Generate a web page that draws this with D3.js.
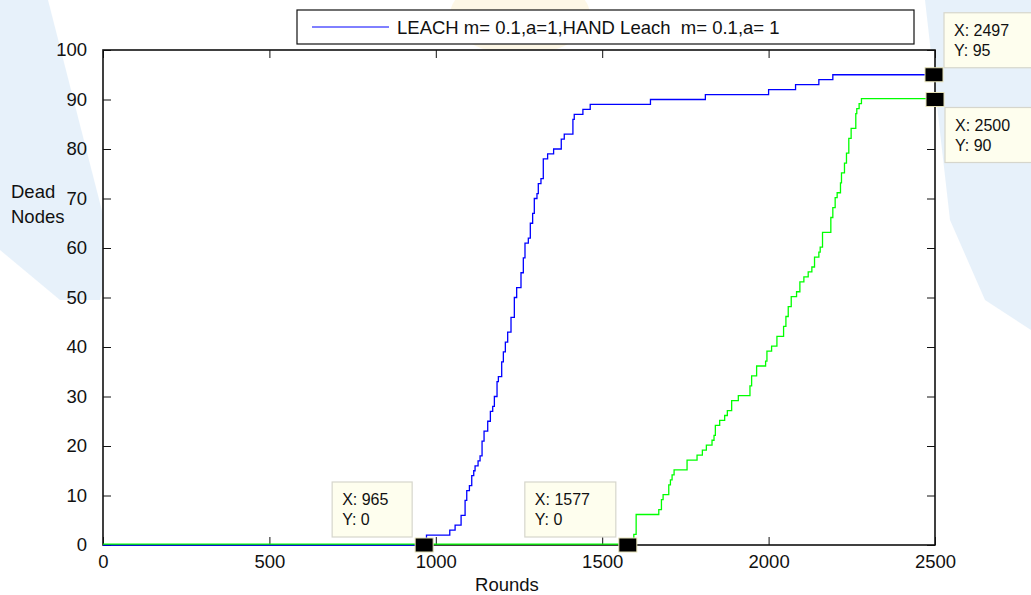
<!DOCTYPE html>
<html>
<head>
<meta charset="utf-8">
<script src="https://cdn.jsdelivr.net/npm/d3@7"></script>
<style>
  html, body { margin: 0; padding: 0; background: #ffffff; }
  svg { display: block; }
  text { font-family: "Liberation Sans", Arial, sans-serif; }
</style>
</head>
<body>
<svg id="chart" width="1031" height="595"></svg>
<script>
// ---------- data ----------
const xTicks = [0, 500, 1000, 1500, 2000, 2500];
const yTicks = [0, 10, 20, 30, 40, 50, 60, 70, 80, 90, 100];

const blueRounds = [0, 972, 1042, 1058, 1076, 1088, 1093, 1101, 1108, 1114, 1118, 1127, 1133, 1139, 1145, 1156, 1164, 1171, 1176, 1184, 1188, 1198, 1203, 1209, 1216, 1226, 1236, 1243, 1256, 1263, 1268, 1278, 1284, 1291, 1296, 1304, 1308, 1316, 1323, 1336, 1354, 1377, 1386, 1412, 1416, 1442, 1464, 1645, 1810, 2000, 2081, 2151, 2193, 2500];
const blueDead   = [0, 2, 3, 4, 6, 9, 11, 12, 14, 15, 16, 17, 18, 21, 23, 25, 27, 28, 30, 33, 34, 37, 39, 41, 43, 46, 50, 52, 55, 58, 61, 62, 65, 67, 70, 71, 73, 74, 78, 79, 80, 82, 83, 86, 87, 88, 89, 90, 91, 92, 93, 94, 95, 95];

const greenRounds = [0, 1595, 1602, 1670, 1678, 1683, 1700, 1705, 1710, 1716, 1755, 1785, 1801, 1813, 1830, 1836, 1840, 1853, 1868, 1876, 1889, 1909, 1944, 1949, 1964, 1991, 1995, 2009, 2025, 2045, 2052, 2059, 2068, 2084, 2094, 2106, 2119, 2130, 2138, 2151, 2155, 2162, 2187, 2193, 2200, 2206, 2216, 2219, 2228, 2234, 2241, 2248, 2262, 2265, 2272, 2279, 2500];
const greenDead   = [0, 2, 6, 7, 9, 10, 12, 13, 14, 15, 17, 18, 19, 20, 21, 22, 24, 25, 26, 27, 29, 30, 32, 34, 36, 37, 39, 40, 42, 44, 46, 48, 50, 51, 53, 54, 55, 56, 58, 59, 60, 63, 66, 68, 70, 71, 73, 75, 77, 79, 82, 84, 87, 88, 89, 90, 90];

const legendLabel = "LEACH m= 0.1,a=1,HAND Leach  m= 0.1,a= 1";
const xLabel = "Rounds";
const yLabelLines = ["Dead", "Nodes"];

const tipX = [965, 1577, 2497, 2500];
const tipY = [0, 0, 95, 90];

// ---------- layout ----------
const svg = d3.select("#chart");
const pLeft = 103, pRight = 935, pTop = 50, pBottom = 545;
const x = d3.scaleLinear().domain([0, 2500]).range([pLeft, pRight]);
const y = d3.scaleLinear().domain([0, 100]).range([pBottom, pTop]);

// faint watermark background (outside the axes)
const wm = svg.append("g");
wm.append("path")
  .attr("d", "M0,0 L48,0 L112,250 L100,300 L60,300 L0,250 Z")
  .attr("fill", "#cfe3f6").attr("opacity", 0.5);
wm.append("path")
  .attr("d", "M925,0 L1031,0 L1031,330 L985,300 L950,220 Z")
  .attr("fill", "#cfe3f6").attr("opacity", 0.5);
wm.append("ellipse")
  .attr("cx", 520).attr("cy", 15).attr("rx", 70).attr("ry", 40)
  .attr("fill", "#fbf1d6").attr("opacity", 0.6);

// plot area
svg.append("rect")
  .attr("x", pLeft).attr("y", pTop)
  .attr("width", pRight - pLeft).attr("height", pBottom - pTop)
  .attr("fill", "#ffffff");

const axisFont = 18.5;
function styleAxis(g) {
  g.select(".domain").remove();
  g.selectAll(".tick line").attr("stroke", "#111").attr("stroke-width", 1);
  g.selectAll(".tick text").attr("fill", "#111")
    .style("font-family", '"Liberation Sans", Arial, sans-serif')
    .style("font-size", axisFont + "px");
}

svg.append("g").attr("transform", `translate(0,${pBottom})`)
  .call(d3.axisBottom(x).tickValues(xTicks).tickSize(-8).tickPadding(10).tickFormat(d3.format("d")))
  .call(styleAxis);
svg.append("g").attr("transform", `translate(0,${pTop})`)
  .call(d3.axisTop(x).tickValues(xTicks).tickSize(-8).tickFormat(""))
  .call(styleAxis);
svg.append("g").attr("transform", `translate(${pLeft},0)`)
  .call(d3.axisLeft(y).tickValues(yTicks).tickSize(-8).tickPadding(16).tickFormat(d3.format("d")))
  .call(styleAxis);
svg.append("g").attr("transform", `translate(${pRight},0)`)
  .call(d3.axisRight(y).tickValues(yTicks).tickSize(-8).tickFormat(""))
  .call(styleAxis);

svg.append("rect")
  .attr("x", pLeft).attr("y", pTop)
  .attr("width", pRight - pLeft).attr("height", pBottom - pTop)
  .attr("fill", "none").attr("stroke", "#111").attr("stroke-width", 1.6);

// axis labels
svg.append("text").attr("x", 507).attr("y", 591)
  .attr("text-anchor", "middle").attr("fill", "#111")
  .style("font-size", axisFont + "px").text(xLabel);
svg.append("g").selectAll("text").data(yLabelLines).join("text")
  .attr("x", 11).attr("y", (d, i) => 198 + i * 25)
  .attr("fill", "#111").style("font-size", axisFont + "px").text(d => d);

// series
const line = d3.line().x(d => x(d[0])).y(d => y(d[1])).curve(d3.curveStepAfter);
const blueData = blueRounds.map((r, i) => [r, blueDead[i]]);
const greenData = greenRounds.map((r, i) => [r, greenDead[i]]);

svg.append("path").datum(blueData).attr("d", line)
  .attr("fill", "none").attr("stroke", "#0000ff").attr("stroke-width", 1.3);
svg.append("path").datum(greenData).attr("d", line)
  .attr("fill", "none").attr("stroke", "#00ff00").attr("stroke-width", 1.3)
  .attr("transform", "translate(0,-0.8)");

// legend
const lg = svg.append("g");
lg.append("rect").attr("x", 297).attr("y", 10).attr("width", 617).attr("height", 34)
  .attr("fill", "#ffffff").attr("stroke", "#111").attr("stroke-width", 1.2);
lg.append("line").attr("x1", 312).attr("x2", 389).attr("y1", 27).attr("y2", 27)
  .attr("stroke", "#0000ff").attr("stroke-width", 1);
lg.append("text").attr("x", 397).attr("y", 34).attr("fill", "#111")
  .style("font-size", axisFont + "px").style("white-space", "pre")
  .attr("xml:space", "preserve").text(legendLabel);

// data tips
const tipBoxes = [
  { dx: -92, dy: -63, w: 80 },
  { dx: -103, dy: -63, w: 91 },
  { dx: 10, dy: -62, w: 92 },
  { dx: 10, dy: 8, w: 92 }
];
tipX.forEach((tx, i) => {
  const px = x(tx), py = y(tipY[i]);
  const b = tipBoxes[i];
  const g = svg.append("g");
  g.append("rect").attr("x", px + b.dx).attr("y", py + b.dy)
    .attr("width", b.w).attr("height", 55)
    .attr("fill", "#fefeee").attr("stroke", "#d6d6cc").attr("stroke-width", 1.2);
  g.append("text").attr("x", px + b.dx + 10).attr("y", py + b.dy + 23)
    .attr("fill", "#111").style("font-size", "16px").text("X: " + tx);
  g.append("text").attr("x", px + b.dx + 10).attr("y", py + b.dy + 43)
    .attr("fill", "#111").style("font-size", "16px").text("Y: " + tipY[i]);
  g.append("rect").attr("x", px - 9).attr("y", py - 7)
    .attr("width", 18).attr("height", 14)
    .attr("fill", "#000").attr("stroke", "#e6e2b8").attr("stroke-width", 1);
});
</script>
</body>
</html>
